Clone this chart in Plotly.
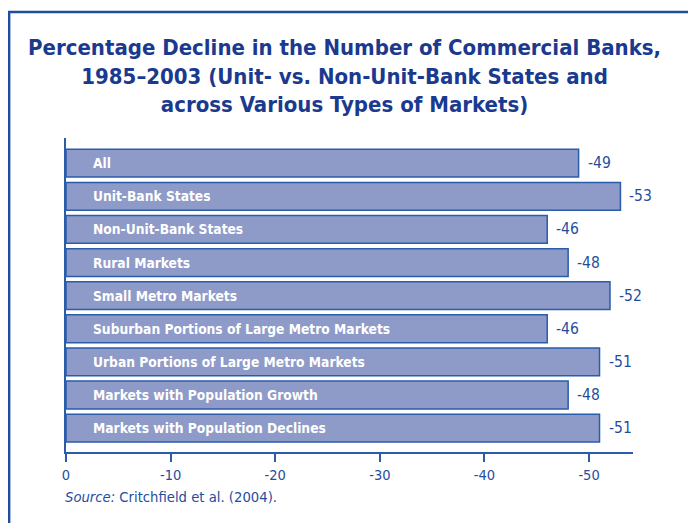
import plotly.graph_objects as go

categories = [
    "All",
    "Unit-Bank States",
    "Non-Unit-Bank States",
    "Rural Markets",
    "Small Metro Markets",
    "Suburban Portions of Large Metro Markets",
    "Urban Portions of Large Metro Markets",
    "Markets with Population Growth",
    "Markets with Population Declines",
]
values = [-49, -53, -46, -48, -52, -46, -51, -48, -51]
tick_vals = [0, -10, -20, -30, -40, -50]
tick_text = ["0", "-10", "-20", "-30", "-40", "-50"]

FONT = "DejaVu Sans Condensed, Liberation Sans Narrow, sans-serif"
BLUE = "#1f4e9e"
TITLE_BLUE = "#1a3a8f"
LINE_BLUE = "#2a5caa"
FILL = "#8e9ac8"

idx = list(range(len(categories)))

fig = go.Figure()
fig.add_trace(go.Bar(
    x=values, y=idx, orientation="h",
    marker=dict(color=FILL, line=dict(color=LINE_BLUE, width=1.5)),
    hoverinfo="skip", showlegend=False,
))

annotations = []
for i, (c, v) in enumerate(zip(categories, values)):
    annotations.append(dict(
        x=0, y=i, xref="x", yref="y", text=f"<b>{c}</b>", showarrow=False,
        xanchor="left", yanchor="middle", xshift=25,
        font=dict(family=FONT, size=13.7, color="white"),
    ))
    annotations.append(dict(
        x=v, y=i, xref="x", yref="y", text=f"{v}", showarrow=False,
        xanchor="left", yanchor="middle", xshift=7,
        font=dict(family=FONT, size=15.5, color=BLUE),
    ))

annotations.append(dict(
    x=0.492, y=1.196, xref="paper", yref="paper",
    text="<b>Percentage Decline in the Number of Commercial Banks,<br>1985–2003 (Unit- vs. Non-Unit-Bank States and<br>across Various Types of Markets)</b>",
    showarrow=False, xanchor="center", yanchor="middle", align="center",
    font=dict(family=FONT, size=22, color=TITLE_BLUE),
))
annotations.append(dict(
    x=-0.005, y=-0.143, xref="paper", yref="paper",
    text="<i>Source:</i> Critchfield et al. (2004).",
    showarrow=False, xanchor="left", yanchor="middle",
    font=dict(family=FONT, size=14.7, color=BLUE),
))

fig.update_layout(
    width=688, height=515,
    margin=dict(l=58, r=63, t=130, b=71),
    paper_bgcolor="white", plot_bgcolor="white",
    bargap=0.16,
    annotations=annotations,
    shapes=[dict(
        type="rect", xref="paper", yref="paper",
        x0=-0.1003, x1=1.2, y0=-0.3, y1=1.401,
        line=dict(color=BLUE, width=2.5), fillcolor="rgba(0,0,0,0)", layer="below",
    )],
    xaxis=dict(
        range=[0, -54.2], tickvals=tick_vals, ticktext=tick_text,
        showgrid=False, zeroline=False, showline=True, linecolor=LINE_BLUE, linewidth=2,
        ticks="outside", ticklen=8, tickcolor=LINE_BLUE, tickwidth=2,
        tickfont=dict(family=FONT, size=14.5, color=BLUE), ticklabelstandoff=1,
    ),
    yaxis=dict(
        range=[8.72, -0.76], showticklabels=False, showgrid=False, zeroline=False,
        showline=True, linecolor=LINE_BLUE, linewidth=2, ticks="",
    ),
)

fig.write_html("out.html")
